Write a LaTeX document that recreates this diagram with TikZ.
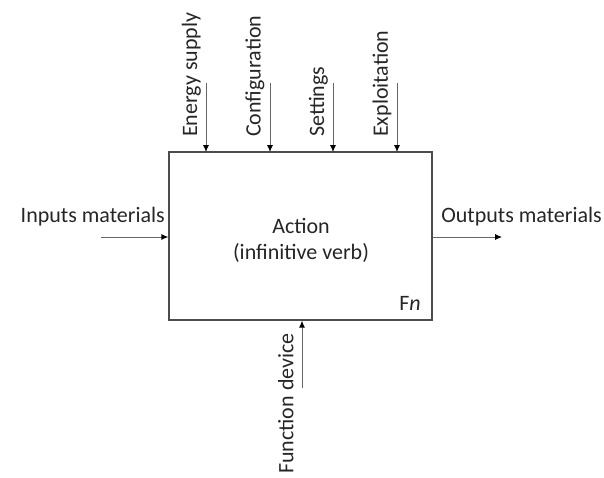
\documentclass[tikz,border=0pt]{standalone}
\usepackage{fontspec}
\setmainfont{Carlito}
\usetikzlibrary{arrows.meta}
\begin{document}
\begin{tikzpicture}[x=1pt,y=-1pt,
  lbl/.style={inner sep=0pt,font=\fontsize{22}{26}\selectfont,text=black!85},
  vlbl/.style={lbl,rotate=90,anchor=south west},
  arr/.style={draw=black!60,line width=0.9pt,-{Latex[length=7pt,width=6pt,color=black]}}]
\useasboundingbox (0,0) rectangle (604,477);
\node[draw=black!70,line width=1.3pt,minimum width=263pt,minimum height=168pt,inner sep=0pt] (box) at (300.5,236) {};
\node[lbl,align=center] (act) at (301,240) {Action\\(infinitive verb)};
\node[lbl,anchor=base east] (fn) at (421,310) {F\textit{n}};
% top arrows
\coordinate (e0) at (206,83); \coordinate (e1) at (206,152);
\coordinate (c0) at (270,83); \coordinate (c1) at (270,152);
\coordinate (s0) at (333,83); \coordinate (s1) at (333,152);
\coordinate (x0) at (397,83); \coordinate (x1) at (397,152);
\draw[arr] (e0) -- (e1);
\draw[arr] (c0) -- (c1);
\draw[arr] (s0) -- (s1);
\draw[arr] (x0) -- (x1);
\node[vlbl] (el) at (201,137) {Energy supply};
\node[vlbl] (cl) at (264.5,137) {Configuration};
\node[vlbl] (sl) at (328,137) {Settings};
\node[vlbl] (xl) at (391.5,137) {Exploitation};
% left / right
\coordinate (i0) at (101,237);
\draw[arr] (i0) -- (box.west |- i0);
\node[lbl,anchor=base east] (il) at (165,222) {Inputs materials};
\coordinate (o1) at (502,237);
\draw[arr] (box.east |- o1) -- (o1);
\node[lbl,anchor=base east] (ol) at (602,222) {Outputs materials};
% bottom
\coordinate (f0) at (302,388);
\draw[arr] (f0) -- (box.south -| f0);
\node[lbl,rotate=90,anchor=north east] (fl) at (278,333) {Function device};
\end{tikzpicture}
\end{document}
